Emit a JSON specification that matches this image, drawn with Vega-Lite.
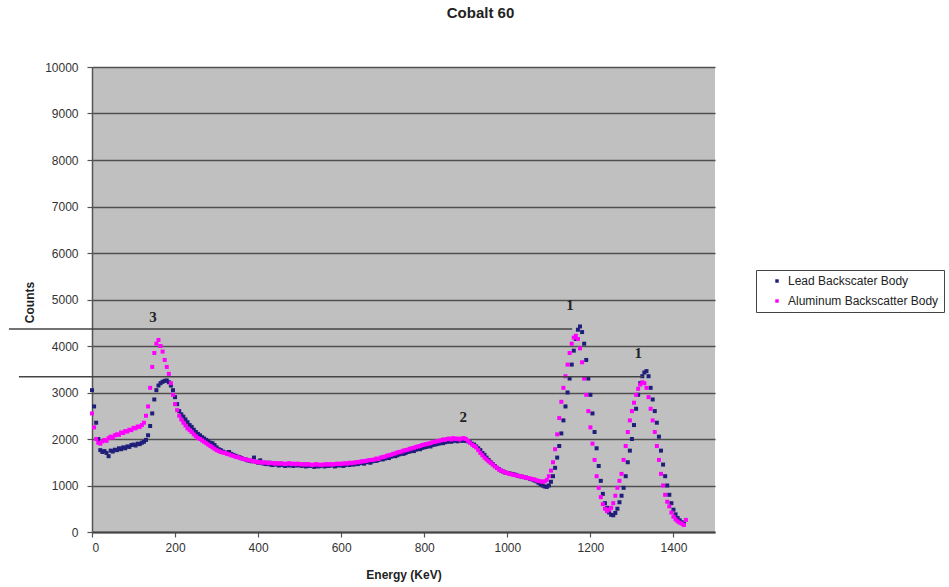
{
  "$schema": "https://vega.github.io/schema/vega-lite/v6.json",
  "width": 623,
  "height": 465,
  "autosize": "none",
  "padding": {"left": 92, "top": 67, "right": 234, "bottom": 55},
  "background": "white",
  "title": {"text": "Cobalt 60", "font": "Liberation Sans", "fontSize": 15, "fontWeight": "bold", "color": "#222222", "anchor": "middle", "dx": 77, "offset": 40},
  "config": {
    "view": {"fill": "#c0c0c0", "stroke": null},
    "axis": {"labelFont": "Liberation Sans", "labelFontSize": 12, "labelColor": "#333333", "titleFont": "Liberation Sans", "titleFontSize": 12, "titleFontWeight": "bold", "titleColor": "#222222", "domainColor": "#555555", "domainWidth": 1.5, "tickColor": "#555555", "tickSize": 5, "tickWidth": 1.2}
  },
  "datasets": {
    "spectrum": [
      {"e":0,"L":3050,"A":2550},{"e":5,"L":2700,"A":2250},{"e":10,"L":2350,"A":2000},{"e":15,"L":2000,"A":1920},{"e":20,"L":1760,"A":1900},
      {"e":25,"L":1720,"A":1950},{"e":30,"L":1740,"A":1980},{"e":35,"L":1700,"A":1960},{"e":40,"L":1630,"A":2020},{"e":45,"L":1750,"A":2050},
      {"e":50,"L":1730,"A":2030},{"e":55,"L":1770,"A":2080},{"e":60,"L":1760,"A":2100},{"e":65,"L":1800,"A":2090},{"e":70,"L":1780,"A":2140},
      {"e":75,"L":1820,"A":2130},{"e":80,"L":1800,"A":2170},{"e":85,"L":1840,"A":2160},{"e":90,"L":1830,"A":2200},{"e":95,"L":1870,"A":2190},
      {"e":100,"L":1880,"A":2240},{"e":105,"L":1860,"A":2230},{"e":110,"L":1900,"A":2270},{"e":115,"L":1890,"A":2260},{"e":120,"L":1920,"A":2300},
      {"e":125,"L":1940,"A":2350},{"e":130,"L":1980,"A":2500},{"e":135,"L":2080,"A":2700},{"e":140,"L":2280,"A":3100},{"e":145,"L":2550,"A":3550},
      {"e":150,"L":2850,"A":3850},{"e":155,"L":3050,"A":4050},{"e":160,"L":3150,"A":4130},{"e":165,"L":3200,"A":4000},{"e":170,"L":3230,"A":3880},
      {"e":175,"L":3250,"A":3700},{"e":180,"L":3260,"A":3550},{"e":185,"L":3220,"A":3400},{"e":190,"L":3150,"A":3200},{"e":195,"L":3050,"A":2950},
      {"e":200,"L":2900,"A":2750},{"e":205,"L":2750,"A":2620},{"e":210,"L":2600,"A":2500},{"e":215,"L":2530,"A":2420},{"e":220,"L":2480,"A":2350},
      {"e":225,"L":2420,"A":2290},{"e":230,"L":2360,"A":2230},{"e":235,"L":2300,"A":2190},{"e":240,"L":2260,"A":2150},{"e":245,"L":2200,"A":2100},
      {"e":250,"L":2150,"A":2060},{"e":255,"L":2110,"A":2020},{"e":260,"L":2080,"A":2000},{"e":265,"L":2040,"A":1970},{"e":270,"L":2010,"A":1940},
      {"e":275,"L":1980,"A":1910},{"e":280,"L":1950,"A":1880},{"e":285,"L":1920,"A":1850},{"e":290,"L":1910,"A":1820},{"e":295,"L":1870,"A":1790},
      {"e":300,"L":1820,"A":1760},{"e":305,"L":1780,"A":1740},{"e":310,"L":1760,"A":1720},{"e":315,"L":1730,"A":1710},{"e":320,"L":1710,"A":1700},
      {"e":325,"L":1690,"A":1680},{"e":330,"L":1720,"A":1670},{"e":335,"L":1680,"A":1650},{"e":340,"L":1660,"A":1640},{"e":345,"L":1640,"A":1620},
      {"e":350,"L":1620,"A":1610},{"e":355,"L":1610,"A":1600},{"e":360,"L":1590,"A":1580},{"e":365,"L":1570,"A":1570},{"e":370,"L":1560,"A":1560},
      {"e":375,"L":1540,"A":1550},{"e":380,"L":1530,"A":1540},{"e":385,"L":1520,"A":1530},{"e":390,"L":1600,"A":1520},{"e":395,"L":1510,"A":1510},
      {"e":400,"L":1490,"A":1500},{"e":405,"L":1540,"A":1500},{"e":410,"L":1480,"A":1490},{"e":415,"L":1470,"A":1500},{"e":420,"L":1460,"A":1490},
      {"e":425,"L":1490,"A":1480},{"e":430,"L":1450,"A":1490},{"e":435,"L":1440,"A":1480},{"e":440,"L":1470,"A":1470},{"e":445,"L":1450,"A":1480},
      {"e":450,"L":1430,"A":1470},{"e":455,"L":1460,"A":1480},{"e":460,"L":1440,"A":1470},{"e":465,"L":1420,"A":1460},{"e":470,"L":1450,"A":1470},
      {"e":475,"L":1430,"A":1480},{"e":480,"L":1440,"A":1460},{"e":485,"L":1420,"A":1470},{"e":490,"L":1450,"A":1460},{"e":495,"L":1430,"A":1470},
      {"e":500,"L":1440,"A":1460},{"e":505,"L":1420,"A":1450},{"e":510,"L":1450,"A":1460},{"e":515,"L":1410,"A":1450},{"e":520,"L":1430,"A":1460},
      {"e":525,"L":1420,"A":1450},{"e":530,"L":1440,"A":1440},{"e":535,"L":1400,"A":1450},{"e":540,"L":1430,"A":1460},{"e":545,"L":1410,"A":1450},
      {"e":550,"L":1420,"A":1440},{"e":555,"L":1440,"A":1450},{"e":560,"L":1410,"A":1450},{"e":565,"L":1430,"A":1460},{"e":570,"L":1420,"A":1450},
      {"e":575,"L":1440,"A":1460},{"e":580,"L":1430,"A":1450},{"e":585,"L":1410,"A":1460},{"e":590,"L":1440,"A":1470},{"e":595,"L":1430,"A":1460},
      {"e":600,"L":1450,"A":1470},{"e":605,"L":1420,"A":1470},{"e":610,"L":1440,"A":1480},{"e":615,"L":1460,"A":1470},{"e":620,"L":1440,"A":1490},
      {"e":625,"L":1460,"A":1480},{"e":630,"L":1450,"A":1490},{"e":635,"L":1480,"A":1500},{"e":640,"L":1460,"A":1500},{"e":645,"L":1480,"A":1510},
      {"e":650,"L":1490,"A":1520},{"e":655,"L":1470,"A":1520},{"e":660,"L":1500,"A":1530},{"e":665,"L":1510,"A":1540},{"e":670,"L":1490,"A":1550},
      {"e":675,"L":1520,"A":1550},{"e":680,"L":1540,"A":1560},{"e":685,"L":1530,"A":1580},{"e":690,"L":1550,"A":1570},{"e":695,"L":1570,"A":1600},
      {"e":700,"L":1560,"A":1610},{"e":705,"L":1580,"A":1620},{"e":710,"L":1600,"A":1640},{"e":715,"L":1590,"A":1650},{"e":720,"L":1620,"A":1660},
      {"e":725,"L":1640,"A":1680},{"e":730,"L":1630,"A":1690},{"e":735,"L":1650,"A":1710},{"e":740,"L":1670,"A":1720},{"e":745,"L":1690,"A":1730},
      {"e":750,"L":1680,"A":1750},{"e":755,"L":1700,"A":1760},{"e":760,"L":1720,"A":1770},{"e":765,"L":1730,"A":1790},{"e":770,"L":1750,"A":1800},
      {"e":775,"L":1740,"A":1810},{"e":780,"L":1770,"A":1830},{"e":785,"L":1790,"A":1840},{"e":790,"L":1780,"A":1850},{"e":795,"L":1810,"A":1870},
      {"e":800,"L":1820,"A":1880},{"e":805,"L":1830,"A":1890},{"e":810,"L":1850,"A":1900},{"e":815,"L":1840,"A":1910},{"e":820,"L":1870,"A":1930},
      {"e":825,"L":1880,"A":1940},{"e":830,"L":1890,"A":1950},{"e":835,"L":1900,"A":1960},{"e":840,"L":1920,"A":1970},{"e":845,"L":1910,"A":1990},
      {"e":850,"L":1930,"A":1980},{"e":855,"L":1940,"A":2000},{"e":860,"L":1950,"A":2010},{"e":865,"L":1940,"A":1990},{"e":870,"L":1960,"A":2020},
      {"e":875,"L":1970,"A":2000},{"e":880,"L":1950,"A":2010},{"e":885,"L":1980,"A":1990},{"e":890,"L":1960,"A":2010},{"e":895,"L":1970,"A":2020},
      {"e":900,"L":1960,"A":2000},{"e":905,"L":1950,"A":1960},{"e":910,"L":1930,"A":1920},{"e":915,"L":1900,"A":1880},{"e":920,"L":1880,"A":1850},
      {"e":925,"L":1840,"A":1820},{"e":930,"L":1800,"A":1760},{"e":935,"L":1760,"A":1700},{"e":940,"L":1700,"A":1650},{"e":945,"L":1660,"A":1600},
      {"e":950,"L":1600,"A":1560},{"e":955,"L":1550,"A":1520},{"e":960,"L":1500,"A":1490},{"e":965,"L":1460,"A":1450},{"e":970,"L":1420,"A":1410},
      {"e":975,"L":1380,"A":1380},{"e":980,"L":1350,"A":1340},{"e":985,"L":1320,"A":1320},{"e":990,"L":1300,"A":1300},{"e":995,"L":1280,"A":1280},
      {"e":1000,"L":1270,"A":1270},{"e":1005,"L":1260,"A":1250},{"e":1010,"L":1250,"A":1240},{"e":1015,"L":1240,"A":1230},{"e":1020,"L":1230,"A":1220},
      {"e":1025,"L":1210,"A":1210},{"e":1030,"L":1200,"A":1200},{"e":1035,"L":1190,"A":1190},{"e":1040,"L":1180,"A":1180},{"e":1045,"L":1170,"A":1170},
      {"e":1050,"L":1160,"A":1160},{"e":1055,"L":1140,"A":1150},{"e":1060,"L":1130,"A":1140},{"e":1065,"L":1110,"A":1130},{"e":1070,"L":1090,"A":1110},
      {"e":1075,"L":1060,"A":1100},{"e":1080,"L":1030,"A":1090},{"e":1085,"L":1000,"A":1080},{"e":1090,"L":980,"A":1090},{"e":1095,"L":970,"A":1120},
      {"e":1100,"L":1000,"A":1200},{"e":1105,"L":1080,"A":1320},{"e":1110,"L":1200,"A":1500},{"e":1115,"L":1380,"A":1780},{"e":1120,"L":1600,"A":2100},
      {"e":1125,"L":1850,"A":2450},{"e":1130,"L":2120,"A":2800},{"e":1135,"L":2400,"A":3100},{"e":1140,"L":2700,"A":3350},{"e":1145,"L":3000,"A":3600},
      {"e":1150,"L":3300,"A":3850},{"e":1155,"L":3600,"A":4050},{"e":1160,"L":3900,"A":4180},{"e":1165,"L":4150,"A":4220},{"e":1170,"L":4350,"A":4150},
      {"e":1175,"L":4420,"A":3950},{"e":1180,"L":4300,"A":3650},{"e":1185,"L":4050,"A":3300},{"e":1190,"L":3700,"A":2950},{"e":1195,"L":3300,"A":2600},
      {"e":1200,"L":2950,"A":2250},{"e":1205,"L":2550,"A":1900},{"e":1210,"L":2150,"A":1550},{"e":1215,"L":1800,"A":1200},{"e":1220,"L":1420,"A":950},
      {"e":1225,"L":1100,"A":750},{"e":1230,"L":820,"A":600},{"e":1235,"L":620,"A":500},{"e":1240,"L":520,"A":450},{"e":1245,"L":420,"A":480},
      {"e":1250,"L":370,"A":520},{"e":1255,"L":360,"A":620},{"e":1260,"L":410,"A":780},{"e":1265,"L":500,"A":950},{"e":1270,"L":640,"A":1100},
      {"e":1275,"L":780,"A":1250},{"e":1280,"L":950,"A":1550},{"e":1285,"L":1200,"A":1850},{"e":1290,"L":1500,"A":2150},{"e":1295,"L":1750,"A":2400},
      {"e":1300,"L":2000,"A":2600},{"e":1305,"L":2300,"A":2780},{"e":1310,"L":2650,"A":2950},{"e":1315,"L":2950,"A":3080},{"e":1320,"L":3200,"A":3170},
      {"e":1325,"L":3350,"A":3220},{"e":1330,"L":3430,"A":3200},{"e":1335,"L":3460,"A":3100},{"e":1340,"L":3350,"A":2900},{"e":1345,"L":3100,"A":2650},
      {"e":1350,"L":2850,"A":2400},{"e":1355,"L":2600,"A":2150},{"e":1360,"L":2350,"A":1850},{"e":1365,"L":2050,"A":1550},{"e":1370,"L":1750,"A":1250},
      {"e":1375,"L":1450,"A":1000},{"e":1380,"L":1200,"A":800},{"e":1385,"L":1000,"A":650},{"e":1390,"L":800,"A":550},{"e":1395,"L":620,"A":420},
      {"e":1400,"L":480,"A":330},{"e":1405,"L":380,"A":270},{"e":1410,"L":300,"A":230},{"e":1415,"L":250,"A":200},{"e":1420,"L":210,"A":180},
      {"e":1425,"L":180,"A":150},{"e":1430,"L":null,"A":260}
    ],
    "peaks": [
      {"e":147,"c":4630,"t":"3"},
      {"e":894,"c":2480,"t":"2"},
      {"e":1151,"c":4880,"t":"1"},
      {"e":1315,"c":3850,"t":"1"}
    ],
    "marks": [
      {"e":-200,"e2":1156,"c":4366},
      {"e":-176,"e2":1327,"c":3340}
    ]
  },
  "layer": [
    {
      "data": {"name": "spectrum"},
      "transform": [
        {"fold": ["L", "A"], "as": ["series", "c"]},
        {"filter": "datum.c != null"}
      ],
      "mark": {"type": "square", "size": 16, "opacity": 1},
      "encoding": {
        "x": {"field": "e", "type": "quantitative", "title": "Energy (KeV)",
              "scale": {"domain": [0, 1500], "nice": false},
              "axis": {"values": [0,200,400,600,800,1000,1200,1400], "format": "d", "grid": false, "labelPadding": 5, "titleY": 37, "titleBaseline": "top", "domainWidth": 2, "domainColor": "#444444"}},
        "y": {"field": "c", "type": "quantitative", "title": "Counts",
              "scale": {"domain": [0, 10000], "nice": false},
              "axis": {"values": [0,1000,2000,3000,4000,5000,6000,7000,8000,9000,10000], "format": "d", "grid": true, "gridColor": "#505050", "gridWidth": 1.3, "labelPadding": 9, "titleX": -59, "titleY": 235, "titleBaseline": "alphabetic"}},
        "color": {"field": "series", "type": "nominal",
                  "scale": {"domain": ["L", "A"], "range": ["#1f1f7a", "#ff00ff"]},
                  "legend": {"orient": "none", "legendX": 664, "legendY": 203, "title": null,
                             "labelExpr": "datum.label == 'L' ? 'Lead Backscater Body' : 'Aluminum Backscatter Body'",
                             "labelFont": "Liberation Sans", "labelFontSize": 12, "labelColor": "#222222",
                             "symbolType": "square", "symbolSize": 12, "symbolStrokeWidth": 0, "symbolOffset": 10, "labelOffset": 5,
                             "fillColor": "white", "strokeColor": "#444444", "padding": 5, "rowPadding": 8}},
        "order": {"field": "series", "sort": "descending"}
      }
    },
    {
      "data": {"name": "peaks"},
      "mark": {"type": "text", "font": "Liberation Serif", "fontSize": 15, "fontWeight": "bold", "color": "#222222", "baseline": "middle", "align": "center"},
      "encoding": {
        "x": {"field": "e", "type": "quantitative", "title": "Energy (KeV)"},
        "y": {"field": "c", "type": "quantitative", "title": "Counts"},
        "text": {"field": "t"}
      }
    },
    {
      "data": {"name": "marks"},
      "mark": {"type": "rule", "color": "#444444", "strokeWidth": 1.5, "clip": false},
      "encoding": {
        "x": {"field": "e", "type": "quantitative", "title": "Energy (KeV)"},
        "x2": {"field": "e2"},
        "y": {"field": "c", "type": "quantitative", "title": "Counts"}
      }
    }
  ]
}
